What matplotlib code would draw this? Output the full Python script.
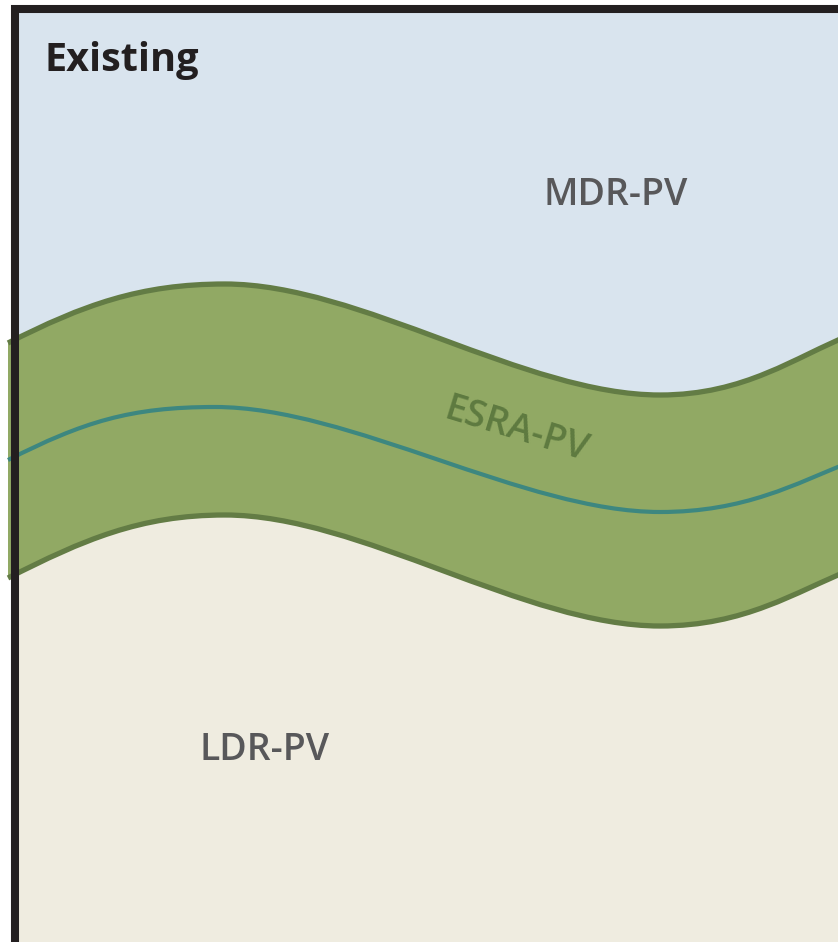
import matplotlib.pyplot as plt
from matplotlib.path import Path
from matplotlib.patches import PathPatch, Rectangle

plt.rcParams['font.family'] = ['Open Sans', 'DejaVu Sans']

# canvas in pixel units (y grows downward)
W, H = 838, 942

# wave anchors for each boundary: left end, crest, trough, right end (x, y)
upper_edge = [(8, 343), (225, 284), (660, 395), (850, 335)]
center_line = [(8, 460), (215, 407), (660, 512), (850, 462)]
lower_edge = [(8, 578), (225, 515), (660, 626), (850, 570)]

labels = ['Existing', 'MDR-PV', 'ESRA-PV', 'LDR-PV']

c_blue = '#d9e4ee'
c_beige = '#efece0'
c_green = '#91a964'
c_green_dark = '#637c45'
c_teal = '#3d8780'
c_text = '#58585a'


def wave_verts(anchors):
    (x0, y0), (x1, y1), (x2, y2), (x3, y3) = anchors
    verts = [(x0, y0),
             (x0 + 75, y0 - 38), (x1 - 85, y1), (x1, y1),
             (x1 + 135, y1), (x2 - 135, y2), (x2, y2),
             (x2 + 85, y2), (x3 - 55, y3 + 22), (x3, y3)]
    codes = [Path.MOVETO] + [Path.CURVE4] * 9
    return verts, codes


fig = plt.figure(figsize=(W / 100, H / 100), dpi=100)
ax = fig.add_axes([0, 0, 1, 1])
ax.set_xlim(0, W)
ax.set_ylim(H, 0)
ax.axis('off')

# background zones (the band covers the seam)
ax.add_patch(Rectangle((15, 8), W, 450, facecolor=c_blue, edgecolor='none'))
ax.add_patch(Rectangle((15, 458), W, H, facecolor=c_beige, edgecolor='none'))

# green band
uv, uc = wave_verts(upper_edge)
lv, lc = wave_verts(lower_edge)
band_verts = uv + [lv[-1]] + lv[::-1][1:] + [uv[0]]
band_codes = uc + [Path.LINETO] + [Path.CURVE4] * 9 + [Path.CLOSEPOLY]
ax.add_patch(PathPatch(Path(band_verts, band_codes), facecolor=c_green, edgecolor='none'))

for anchors, col, lw in [(upper_edge, c_green_dark, 3.8),
                         (lower_edge, c_green_dark, 3.8),
                         (center_line, c_teal, 3.0)]:
    v, c = wave_verts(anchors)
    ax.add_patch(PathPatch(Path(v, c), facecolor='none', edgecolor=col, lw=lw,
                           capstyle='butt'))

# frame (left and top)
ax.plot([15, 15, W + 5], [H + 5, 8.5, 8.5], color='#231f20', lw=5.8,
        solid_joinstyle='miter', solid_capstyle='butt')

ax.text(44, 71, labels[0], fontsize=28.5, fontweight='bold', color='#231f20',
        ha='left', va='baseline')
ax.text(616, 205, labels[1], fontsize=27, fontweight='semibold', color=c_text,
        ha='center', va='baseline')
ax.text(516, 430, labels[2], fontsize=27, fontweight='semibold', color='#5e7a40',
        ha='center', va='center', rotation=-17, rotation_mode='anchor')
ax.text(265, 760, labels[3], fontsize=27, fontweight='semibold', color=c_text,
        ha='center', va='baseline')

fig.savefig('out.png', dpi=100)
